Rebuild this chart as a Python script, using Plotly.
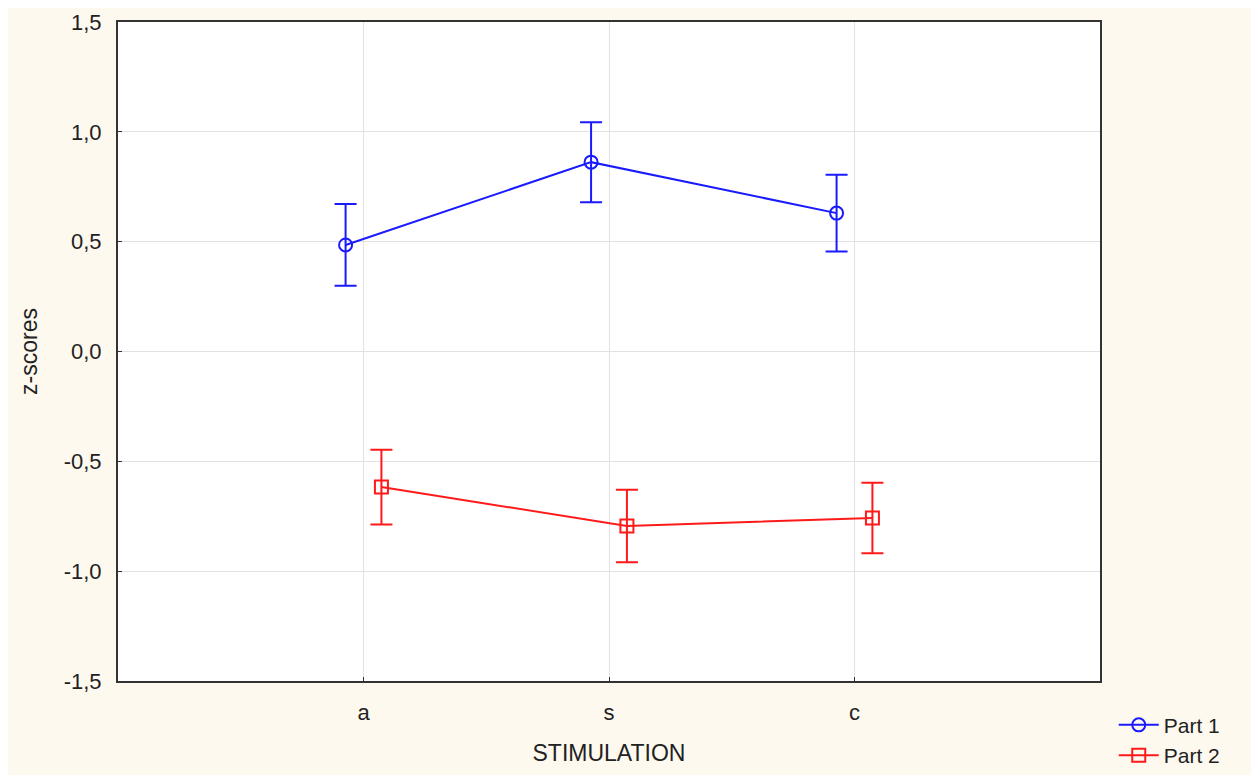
import plotly.graph_objects as go

categories = ["a", "s", "c"]
part1_mean = [0.485, 0.862, 0.630]
part1_err = [0.186, 0.182, 0.175]
part2_mean = [-0.617, -0.794, -0.758]
part2_err = [0.170, 0.165, 0.160]
ytick_vals = [-1.5, -1.0, -0.5, 0.0, 0.5, 1.0, 1.5]
ytick_text = ["-1,5", "-1,0", "-0,5", "0,0", "0,5", "1,0", "1,5"]

offset = 0.073
xpos = list(range(len(categories)))

fig = go.Figure()
fig.add_trace(go.Scatter(
    x=[p - offset for p in xpos], y=part1_mean, name="Part 1",
    mode="lines+markers",
    line=dict(color="#1a1aff", width=2),
    marker=dict(symbol="circle-open", size=13, color="#1a1aff", line=dict(width=2)),
    error_y=dict(type="data", array=part1_err, color="#1a1aff", thickness=2, width=11),
))
fig.add_trace(go.Scatter(
    x=[p + offset for p in xpos], y=part2_mean, name="Part 2",
    mode="lines+markers",
    line=dict(color="#ff1a1a", width=2),
    marker=dict(symbol="square-open", size=13, color="#ff1a1a", line=dict(width=2)),
    error_y=dict(type="data", array=part2_err, color="#ff1a1a", thickness=2, width=11),
))

fig.update_layout(
    width=1251, height=767,
    margin=dict(l=110, r=159, t=14, b=94, autoexpand=False),
    paper_bgcolor="#fef9ef",
    plot_bgcolor="white",
    font=dict(family="Liberation Sans, Arial, sans-serif", size=22, color="#222"),
    showlegend=True,
    legend=dict(x=1.014, y=-0.036, xanchor="left", yanchor="top",
                bgcolor="rgba(0,0,0,0)", font=dict(size=21),
                tracegroupgap=0, itemwidth=40),
    xaxis=dict(
        range=[-1, 3], tickmode="array", tickvals=xpos, ticktext=categories,
        showgrid=True, gridcolor="#e2e2e2", gridwidth=1,
        showline=True, linecolor="#333", linewidth=2, mirror=True,
        ticks="inside", ticklen=4, tickcolor="#333",
        ticklabelstandoff=11, automargin=False,
        zeroline=False,
        title=dict(text="STIMULATION", standoff=20, font=dict(size=23)),
    ),
    yaxis=dict(
        range=[-1.5, 1.5], tickmode="array", tickvals=ytick_vals, ticktext=ytick_text,
        showgrid=True, gridcolor="#e2e2e2", gridwidth=1,
        showline=True, linecolor="#333", linewidth=2, mirror=True,
        ticks="inside", ticklen=4, tickcolor="#333",
        ticklabelstandoff=10, automargin=False,
        zeroline=False,
        title=dict(text="z-scores", standoff=20, font=dict(size=23)),
    ),
)

fig.write_html("out.html")
